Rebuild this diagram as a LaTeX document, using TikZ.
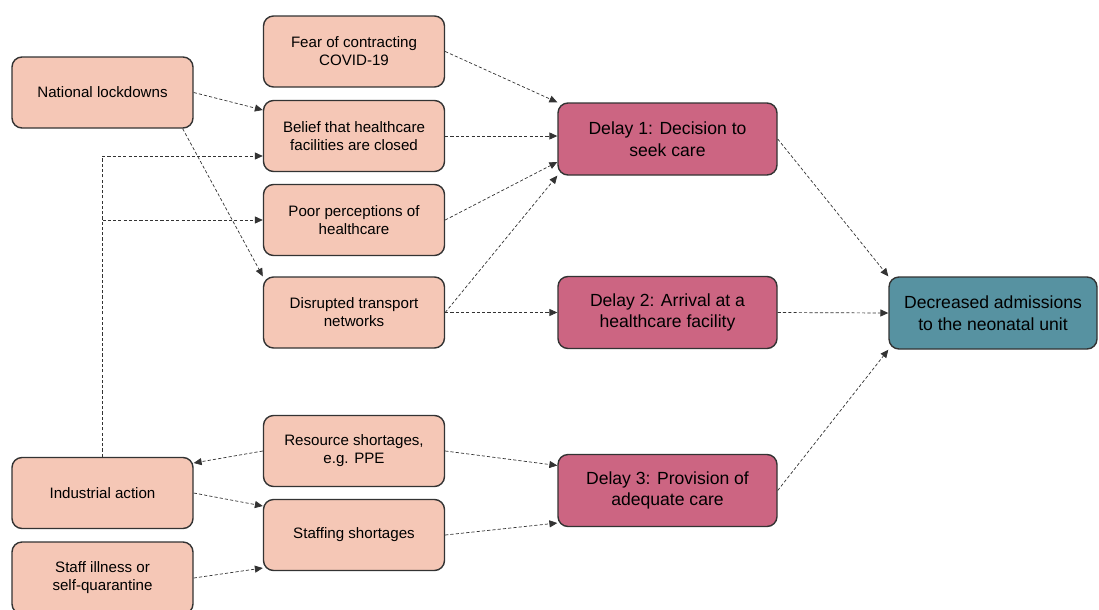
\documentclass[tikz,border=0pt]{standalone}
\usepackage{fontspec}
\setmainfont{Liberation Sans}
\usepackage{tikz}
\usetikzlibrary{arrows.meta}

\definecolor{salmon}{HTML}{F5C7B6}
\definecolor{berry}{HTML}{CC6582}
\definecolor{teal}{HTML}{5792A1}

\begin{document}
\begin{tikzpicture}[
    >={Triangle[length=4.5pt,width=4pt]},
    blk/.style={draw=black!80, line width=0.8pt, rounded corners=0.2cm, align=center, text=black},
    cause/.style={blk, fill=salmon, minimum width=3.62cm, minimum height=1.42cm, font=\fontsize{8.6}{10.2}\selectfont},
    delay/.style={blk, fill=berry, minimum width=4.38cm, minimum height=1.44cm, font=\fontsize{10}{12.3}\selectfont},
    outc/.style={blk, fill=teal, minimum width=4.16cm, minimum height=1.44cm, font=\fontsize{10}{12.3}\selectfont},
    link/.style={->, black!80, line width=0.4pt, dash pattern=on 1.8pt off 1.2pt},
  ]
    \useasboundingbox (0,0) rectangle (21.98,-12.18);

    % left column
    \node[cause] (nat) at (2.05,-1.85) {National lockdowns};
    \node[cause] (ind) at (2.05,-9.86) {Industrial action};
    \node[cause, minimum height=1.44cm] (ill) at (2.05,-11.56) {Staff illness or\\self-quarantine};

    % middle column
    \node[cause] (fear)   at (7.08,-1.03) {Fear of contracting\\COVID-19};
    \node[cause] (belief) at (7.08,-2.72) {Belief that healthcare\\facilities are closed};
    \node[cause] (poor)   at (7.08,-4.40) {Poor perceptions of\\healthcare};
    \node[cause] (disr)   at (7.08,-6.25) {Disrupted transport\\networks};
    \node[cause] (res)    at (7.08,-9.02) {Resource shortages,\\e.g. PPE};
    \node[cause] (staff)  at (7.08,-10.70) {Staffing shortages};

    % three delays
    \node[delay] (d1) at (13.35,-2.78) {Delay 1: Decision to\\seek care};
    \node[delay] (d2) at (13.35,-6.25) {Delay 2: Arrival at a\\healthcare facility};
    \node[delay] (d3) at (13.35,-9.81) {Delay 3: Provision of\\adequate care};

    \node[outc] (dec) at (19.86,-6.26) {Decreased admissions\\to the neonatal unit};

    \draw[link] (nat.east) -- ([yshift=0.52cm]belief.west);
    \draw[link] ([xshift=-0.22cm]nat.south east) -- (disr.north west);
    \draw[link] (ind.north) |- ([yshift=-0.4cm]belief.west);
    \draw[link] (ind.north |- poor.west) -- (poor.west);

    \draw[link] (fear.east) -- (d1.north west);
    \draw[link] (belief.east) -- (belief.east -| d1.west);
    \draw[link] (poor.east) -- ([yshift=-0.46cm]d1.west);
    \draw[link] (disr.east) -- (d1.south west);
    \draw[link] (disr.east) -- (d2.west);

    \draw[link] (res.west) -- ([yshift=0.6cm]ind.east);
    \draw[link] (ind.east) -- ([yshift=0.58cm]staff.west);
    \draw[link] (ill.east) -- ([yshift=-0.66cm]staff.west);
    \draw[link] (res.east) -- ([yshift=0.5cm]d3.west);
    \draw[link] (staff.east) -- ([yshift=-0.65cm]d3.west);

    \draw[link] (d1.east) -- (dec.north west);
    \draw[link] (d2.east) -- (dec.west);
    \draw[link] (d3.east) -- (dec.south west);
\end{tikzpicture}
\end{document}
